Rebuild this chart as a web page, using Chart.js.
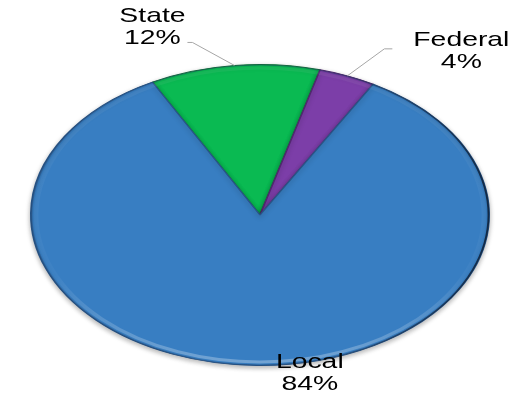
<!DOCTYPE html>
<html>
<head>
<meta charset="utf-8">
<script src="https://cdn.jsdelivr.net/npm/chart.js@4.4.1/dist/chart.umd.min.js"></script>
<style>
  html, body { margin: 0; padding: 0; background: #fff; }
  #wrap { width: 521px; height: 394px; position: relative; }
</style>
</head>
<body>
<div id="wrap"><canvas id="ChartFunding" width="521" height="394"></canvas></div>
<script>
const labels = ["State", "Federal", "Local"];
const values = [12, 4, 84];
const colors = ["rgb(10, 186, 82)", "rgb(124, 62, 168)", "rgb(56, 126, 194)"];
const borders = ["rgb(20, 110, 60)", "rgb(80, 40, 110)", "rgb(40, 85, 135)"];

// the pie is drawn as a circle then stretched sideways into an ellipse
const stretchX = 230 / 151;

// label placement relative to the point on the rim at the slice middle
const labelPos = [
  { dx: -82, dy: -43, elbow: [-42, -23], end: [-47, -23] },
  { dx: 114, dy: -30, elbow: [37, -27], end: [45, -27] },
  { dx: 53, dy: 3, elbow: null, end: null },
];

function rimPoint(chart, i) {
  const arc = chart.getDatasetMeta(0).data[i];
  const a = (arc.startAngle + arc.endAngle) / 2;
  const r = arc.outerRadius;
  return {
    x: arc.x + r * Math.cos(a) * stretchX,
    y: arc.y + r * Math.sin(a),
  };
}

const ellipsePlugin = {
  id: "ellipse",
  beforeDatasetsDraw(chart) {
    const ctx = chart.ctx;
    const arc = chart.getDatasetMeta(0).data[0];
    ctx.save();
    ctx.translate(arc.x, arc.y);
    ctx.scale(stretchX, 1);
    ctx.translate(-arc.x, -arc.y);
    ctx.shadowColor = "rgba(0, 0, 0, 0.3)";
    ctx.shadowBlur = 5;
    ctx.shadowOffsetX = 0;
    ctx.shadowOffsetY = 2;
  },
  afterDatasetsDraw(chart) {
    const ctx = chart.ctx;
    const arc = chart.getDatasetMeta(0).data[0];
    const r = arc.outerRadius;
    ctx.shadowColor = "transparent";
    // soft bevel near the rim, lighter at the bottom
    const g = ctx.createLinearGradient(0, arc.y - r, 0, arc.y + r);
    g.addColorStop(0, "rgba(255, 255, 255, 0.06)");
    g.addColorStop(0.7, "rgba(255, 255, 255, 0.03)");
    g.addColorStop(1, "rgba(255, 255, 255, 0.3)");
    ctx.beginPath();
    ctx.arc(arc.x, arc.y, r - 3.5, 0, Math.PI * 2);
    ctx.lineWidth = 3;
    ctx.strokeStyle = g;
    ctx.stroke();
    // darker rim, strongest on the right
    const h = ctx.createLinearGradient(arc.x - r, 0, arc.x + r, 0);
    h.addColorStop(0, "rgba(30, 60, 100, 0.35)");
    h.addColorStop(0.6, "rgba(30, 60, 100, 0.4)");
    h.addColorStop(1, "rgba(15, 35, 60, 0.9)");
    ctx.beginPath();
    ctx.arc(arc.x, arc.y, r - 0.5, 0, Math.PI * 2);
    ctx.lineWidth = 1.2;
    ctx.strokeStyle = h;
    ctx.stroke();
    ctx.restore();
  },
  afterDraw(chart) {
    const ctx = chart.ctx;
    ctx.save();
    ctx.font = "21px 'Liberation Sans', Arial, sans-serif";
    ctx.textAlign = "center";
    ctx.textBaseline = "alphabetic";
    ctx.fillStyle = "#000";
    labels.forEach((name, i) => {
      const p = rimPoint(chart, i);
      const pos = labelPos[i];
      if (pos.elbow) {
        ctx.beginPath();
        ctx.moveTo(p.x, p.y);
        ctx.lineTo(p.x + pos.elbow[0], p.y + pos.elbow[1]);
        ctx.lineTo(p.x + pos.end[0], p.y + pos.end[1]);
        ctx.strokeStyle = "#a6a6a6";
        ctx.lineWidth = 1;
        ctx.stroke();
      }
      const pct = Math.round(values[i] / values.reduce((s, v) => s + v, 0) * 100) + "%";
      const lines = [name, pct];
      lines.forEach((t, k) => {
        ctx.save();
        ctx.translate(p.x + pos.dx, p.y + pos.dy + k * 22);
        ctx.scale(1.35, 1);
        ctx.fillText(t, 0, 0);
        ctx.restore();
      });
    });
    ctx.restore();
  },
};

const ctx1 = document.getElementById("ChartFunding");
const pieChart = new Chart(ctx1, {
  type: "pie",
  data: {
    labels: labels,
    datasets: [
      {
        data: values,
        backgroundColor: colors,
        borderColor: borders,
        borderWidth: 1,
      },
    ],
  },
  options: {
    responsive: false,
    animation: false,
    rotation: -28,
    layout: {
      padding: { top: 64, bottom: 28, left: 109, right: 110 },
    },
    plugins: {
      legend: { display: false },
      tooltip: { enabled: false },
    },
  },
  plugins: [ellipsePlugin],
});
</script>
</body>
</html>
